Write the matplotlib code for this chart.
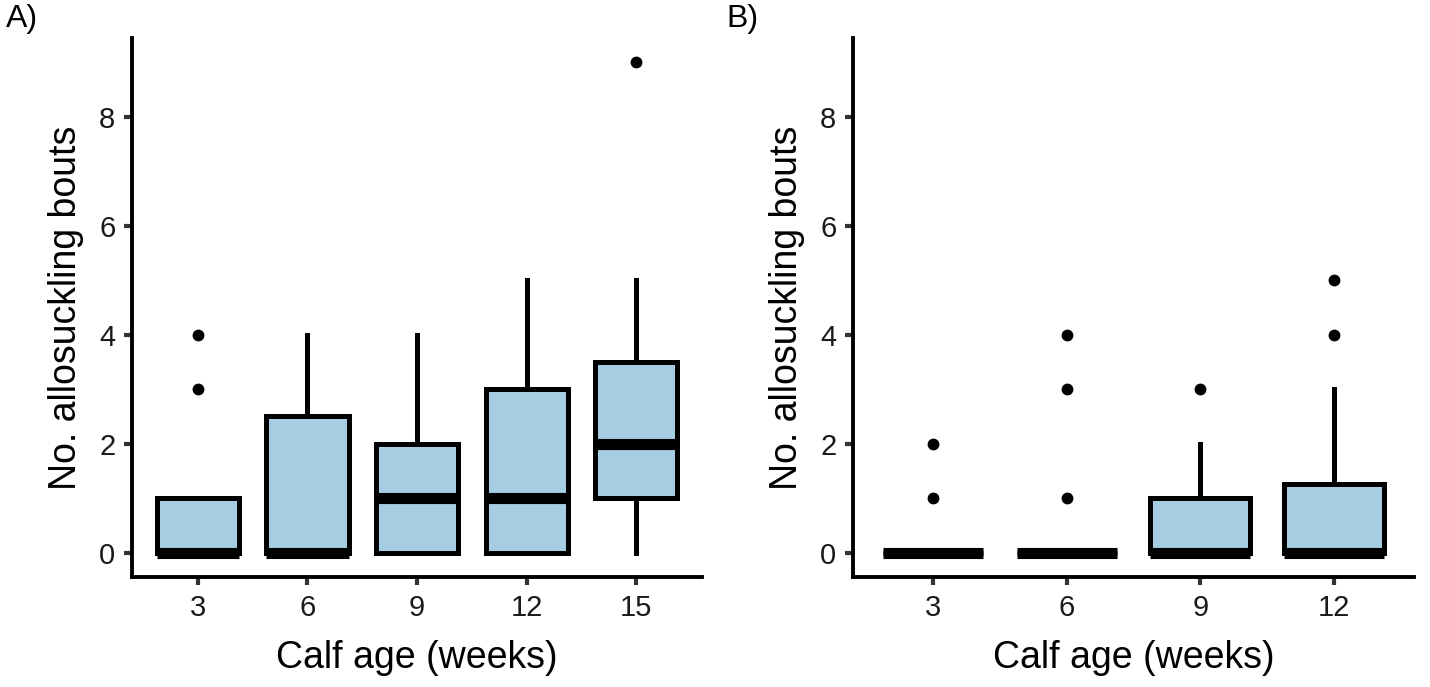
import matplotlib.pyplot as plt

plt.rcParams['font.family'] = ['Liberation Sans', 'DejaVu Sans']

# panel A: calf age 3..15 weeks
ages_a = ['3', '6', '9', '12', '15']
q1_a = [0, 0, 0, 0, 1]
med_a = [0, 0, 1, 1, 2]
q3_a = [1, 2.5, 2, 3, 3.5]
wlo_a = [0, 0, 0, 0, 0]
whi_a = [1, 4, 4, 5, 5]
out_a = [[3, 4], [], [], [], [9]]

# panel B: calf age 3..12 weeks
ages_b = ['3', '6', '9', '12']
q1_b = [0, 0, 0, 0]
med_b = [0, 0, 0, 0]
q3_b = [0, 0, 1, 1.25]
wlo_b = [0, 0, 0, 0]
whi_b = [0, 0, 2, 3]
out_b = [[1, 2], [1, 3, 4], [3], [4, 5]]

fill = '#A6CEE3'


def make_stats(q1, med, q3, wlo, whi, out):
    return [dict(q1=a, med=b, q3=c, whislo=d, whishi=e, fliers=f)
            for a, b, c, d, e, f in zip(q1, med, q3, wlo, whi, out)]


def draw(ax, labels, stats):
    n = len(labels)
    ax.bxp(stats, positions=range(1, n + 1), widths=0.75, patch_artist=True,
           showcaps=False,
           boxprops=dict(facecolor=fill, edgecolor='black', linewidth=3.6),
           whiskerprops=dict(color='black', linewidth=3.6),
           medianprops=dict(color='black', linewidth=8, solid_capstyle='butt'),
           flierprops=dict(marker='o', markerfacecolor='black', markeredgecolor='black',
                           markersize=7.5))
    ax.set_xlim(0.4, n + 0.6)
    ax.set_ylim(-0.45, 9.45)
    ax.set_xticks(range(1, n + 1))
    ax.set_xticklabels(labels)
    ax.set_yticks([0, 2, 4, 6, 8])
    for s in ['top', 'right']:
        ax.spines[s].set_visible(False)
    for s in ['left', 'bottom']:
        ax.spines[s].set_linewidth(2.8)
    ax.tick_params(axis='both', length=6, width=3, color='#333333',
                   labelsize=21, labelcolor='#1a1a1a', pad=6)
    ax.set_xlabel('Calf age (weeks)', fontsize=27, labelpad=13)
    ax.set_ylabel('No. allosuckling bouts', fontsize=27, labelpad=11)


fig = plt.figure(figsize=(14.3, 6.87), dpi=100)
ax1 = fig.add_axes([0.0923, 0.160, 0.3987, 0.785])
ax2 = fig.add_axes([0.5965, 0.160, 0.3923, 0.785])

draw(ax1, ages_a, make_stats(q1_a, med_a, q3_a, wlo_a, whi_a, out_a))
draw(ax2, ages_b, make_stats(q1_b, med_b, q3_b, wlo_b, whi_b, out_b))

fig.text(6 / 1430, 1 - 4 / 687, 'A)', fontsize=23, va='top', ha='left')
fig.text(726 / 1430, 1 - 4 / 687, 'B)', fontsize=23, va='top', ha='left')

fig.savefig('out.png', dpi=100)
